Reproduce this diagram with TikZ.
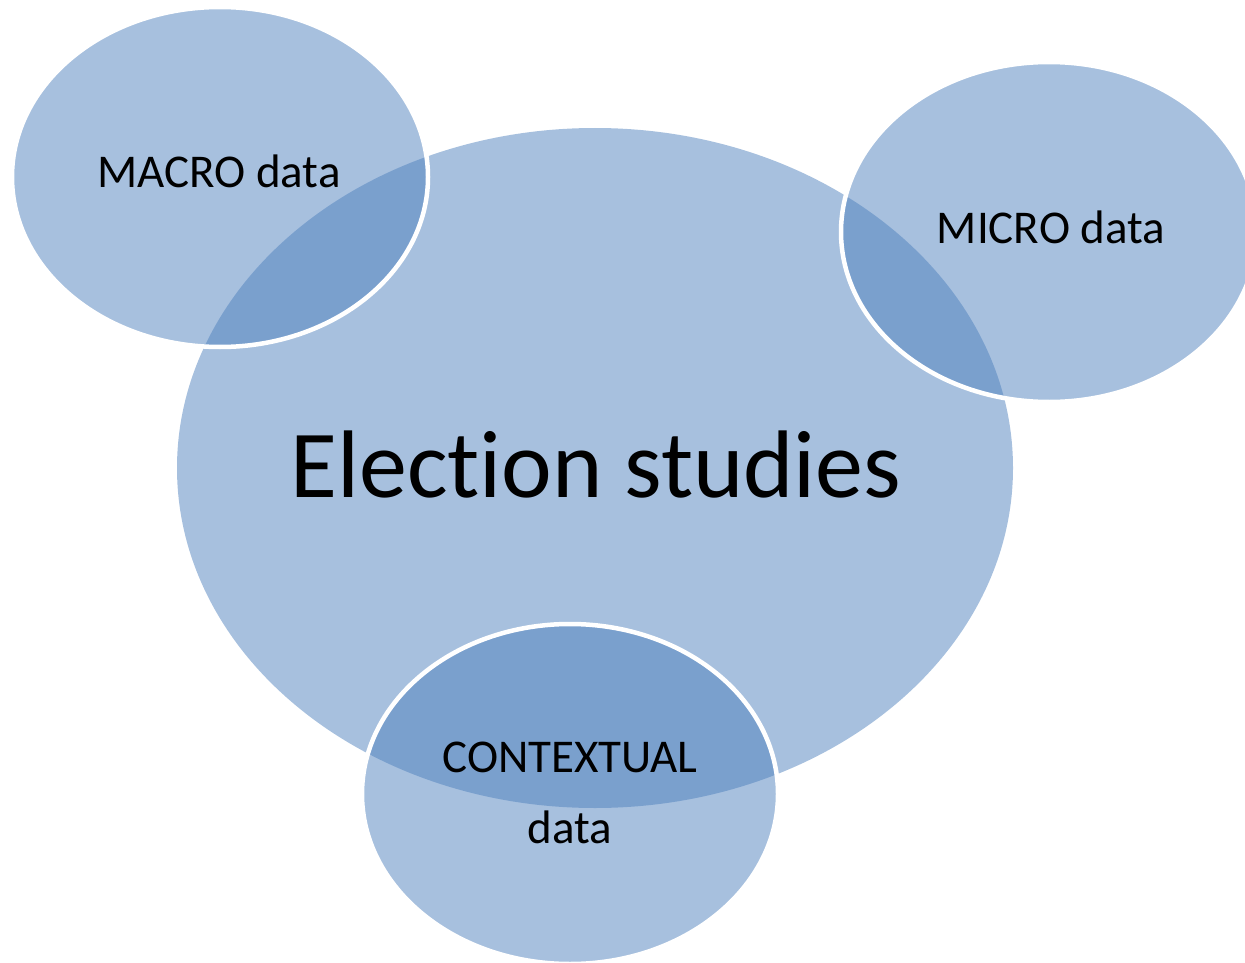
\documentclass[tikz,border=0pt]{standalone}
\usepackage{fontspec}
\setmainfont{Carlito}[Ligatures=NoCommon]
\usetikzlibrary{shapes.geometric}
\definecolor{accentblue}{HTML}{4F81BD}
\tikzset{
  bigoval/.style={ellipse, inner sep=0pt, fill=accentblue, fill opacity=0.5, draw=none},
  smalloval/.style={ellipse, inner sep=0pt, fill=accentblue, fill opacity=0.5, draw=white, draw opacity=1, line width=4.5pt,
     minimum width=416pt, minimum height=340pt},
  lbl/.style={anchor=base, inner sep=0pt, text=black, font=\fontsize{47}{71}\selectfont},
}
\begin{document}
\begin{tikzpicture}[x=1pt,y=-1pt]
\useasboundingbox (0,0) rectangle (1245,963);
\node[bigoval, minimum width=836pt, minimum height=680pt] (big) at (595,468) {};
\node[smalloval] (macro) at (220,177) {};
\node[smalloval] (micro) at (1049,232) {};
\node[smalloval] (context) at (570,794) {};
\node[lbl, font=\fontsize{96}{110}\selectfont] (tbig) at (596,497) {Election studies};
\node[lbl] (tmacro) at (219,187) {MACRO data};
\node[lbl] (tmicro) at (1051,243) {MICRO data};
\node[lbl] (tcontext) at (570,772) {CONTEXTUAL};
\node[lbl] (tdata) at (570,843) {data};
\end{tikzpicture}
\end{document}
